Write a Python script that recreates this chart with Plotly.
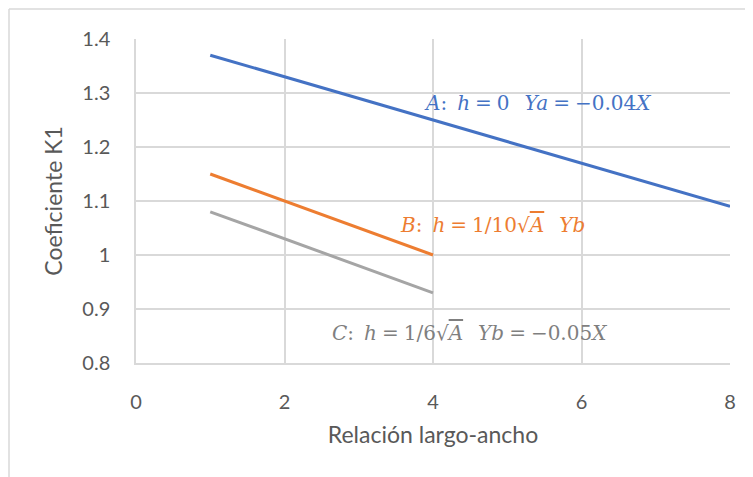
import plotly.graph_objects as go

# series A: h = 0
xa = [1, 2, 4, 6, 8]
ya = [1.37, 1.33, 1.25, 1.17, 1.09]
# series B: h = 1/10 sqrt(A)
xb = [1, 2, 3, 4]
yb = [1.15, 1.10, 1.05, 1.00]
# series C: h = 1/6 sqrt(A)
xc = [1, 2, 3, 4]
yc = [1.08, 1.03, 0.98, 0.93]

x_ticks = [0, 2, 4, 6, 8]
y_ticks = [0.8, 0.9, 1.0, 1.1, 1.2, 1.3, 1.4]
y_ticktext = ['0.8', '0.9', '1', '1.1', '1.2', '1.3', '1.4']

grid = '#D9D9D9'
txt = '#595959'
sans = 'Lato, Open Sans, sans-serif'
math_font = 'DejaVu Serif, Liberation Serif, serif'
tick_font = dict(family=sans, size=20, color=txt)
title_font = dict(family=sans, size=23, color=txt)

fig = go.Figure()
fig.add_trace(go.Scatter(x=xa, y=ya, mode='lines', line=dict(color='#4472C4', width=3)))
fig.add_trace(go.Scatter(x=xb, y=yb, mode='lines', line=dict(color='#ED7D31', width=3)))
fig.add_trace(go.Scatter(x=xc, y=yc, mode='lines', line=dict(color='#A5A5A5', width=3)))

sq = "√<span style='text-decoration:overline'><i>A</i></span>"
eq = "\u2005=\u2005"
gap = "\u2002\u2005"
col = ":\u2002"
fig.add_annotation(x=5.41, y=1.281, showarrow=False,
                   text="<i>A</i>" + col + "<i>h</i>" + eq + "0" + gap + "<i>Ya</i>" + eq + "−0.04<i>X</i>",
                   font=dict(family=math_font, size=20, color='#4472C4'))
fig.add_annotation(x=4.80, y=1.056, showarrow=False,
                   text="<i>B</i>" + col + "<i>h</i>" + eq + "1/10" + sq + gap + "<i>Yb</i>",
                   font=dict(family=math_font, size=20, color='#ED7D31'))
fig.add_annotation(x=4.485, y=0.856, showarrow=False,
                   text="<i>C</i>" + col + "<i>h</i>" + eq + "1/6" + sq + gap + "<i>Yb</i>" + eq + "−0.05<i>X</i>",
                   font=dict(family=math_font, size=20, color='#7F7F7F'))

# outer chart border (left and top edges visible in the crop)
fig.add_shape(type='line', xref='paper', yref='paper', x0=-0.2138, x1=-0.2138, y0=-0.6, y1=1.0926,
              line=dict(color=grid, width=1.5))
fig.add_shape(type='line', xref='paper', yref='paper', x0=-0.2138, x1=1.2, y0=1.0926, y1=1.0926,
              line=dict(color=grid, width=1.5))

fig.update_layout(
    width=753, height=477,
    margin=dict(l=128, r=31, t=31, b=122),
    plot_bgcolor='white', paper_bgcolor='white',
    showlegend=False,
    xaxis=dict(range=[0, 8], tickvals=x_ticks, showgrid=True, gridcolor=grid, gridwidth=1.5,
               showline=True, linecolor=grid, linewidth=1.5, zeroline=False, automargin=False,
               tickfont=tick_font, ticks='outside', ticklen=20, tickcolor='rgba(0,0,0,0)',
               title=dict(text='Relación largo-ancho', font=title_font, standoff=15)),
    yaxis=dict(range=[0.8, 1.4], tickvals=y_ticks, ticktext=y_ticktext, showgrid=True, gridcolor=grid,
               gridwidth=1.5, showline=True, linecolor=grid, linewidth=1.5, zeroline=False, automargin=False,
               tickfont=tick_font, ticks='outside', ticklen=20, tickcolor='rgba(0,0,0,0)',
               title=dict(text='Coeficiente K1', font=title_font, standoff=13)),
)

fig.write_html("out.html")
